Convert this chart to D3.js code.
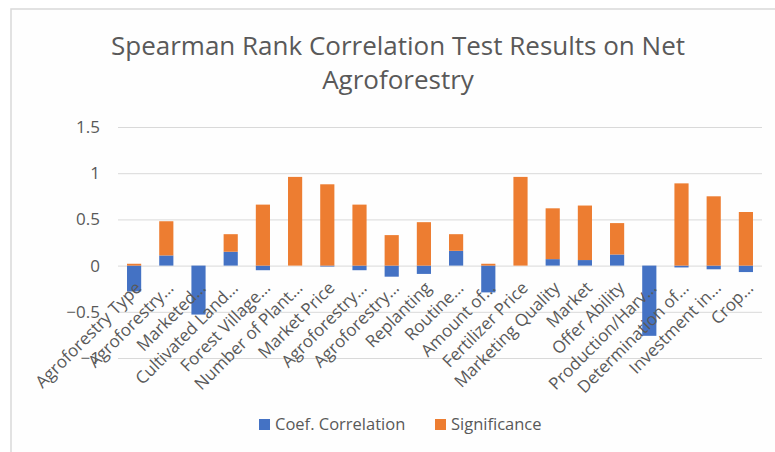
<!DOCTYPE html>
<html>
<head>
<meta charset="utf-8">
<script src="https://cdn.jsdelivr.net/npm/d3@7"></script>
<style>
  html, body { margin: 0; padding: 0; background: #ffffff; }
  svg { display: block; font-family: "Open Sans", "Liberation Sans", sans-serif; }
</style>
</head>
<body>
<svg id="chart" width="775" height="452"></svg>
<script>
const categories = [
  "Agroforestry Type", "Agroforestry…", "Marketed…", "Cultivated Land…",
  "Forest Village…", "Number of Plant…", "Market Price", "Agroforestry…",
  "Agroforestry…", "Replanting", "Routine…", "Amount of…",
  "Fertilizer Price", "Marketing Quality", "Market", "Offer Ability",
  "Production/Harv…", "Determination of…", "Investment in…", "Crop…"
];
const coefCorrelation = [
  -0.28, 0.11, -0.53, 0.15, -0.05, 0.0, -0.01, -0.05, -0.12, -0.09,
  0.16, -0.29, 0.0, 0.07, 0.06, 0.12, -0.76, -0.02, -0.04, -0.07
];
const significance = [
  0.02, 0.37, 0.0, 0.19, 0.66, 0.96, 0.88, 0.66, 0.33, 0.47,
  0.18, 0.02, 0.96, 0.55, 0.59, 0.34, 0.0, 0.89, 0.75, 0.58
];
const seriesNames = ["Coef. Correlation", "Significance"];
const seriesColors = ["#4472C4", "#ED7D31"];
const yTicks = [-1, -0.5, 0, 0.5, 1, 1.5];

const svg = d3.select("#chart");
const width = 775;
const height = 452;
const margin = { top: 127, right: 13, bottom: 94, left: 118 };
const innerWidth = width - margin.left - margin.right;
const innerHeight = height - margin.top - margin.bottom;

// chart frame (only top and left edges are visible in the crop)
svg.append("rect").attr("x", 11).attr("y", 9).attr("width", 770).attr("height", 450)
  .attr("fill", "#fefefe").attr("stroke", "#d9d9d9").attr("stroke-width", 1.5);

// title
const title = svg.append("text")
  .attr("x", 398).attr("text-anchor", "middle")
  .attr("fill", "#595959").attr("font-size", 26);
title.append("tspan").attr("x", 398).attr("y", 55).text("Spearman Rank Correlation Test Results on Net");
title.append("tspan").attr("x", 398).attr("y", 89).text("Agroforestry");

const rows = categories.map((c, i) => ({
  name: c,
  "Coef. Correlation": coefCorrelation[i],
  "Significance": significance[i]
}));

const stacked = d3.stack()
  .keys(seriesNames)
  .offset(d3.stackOffsetDiverging)(rows);

const x = d3.scaleBand()
  .domain(d3.range(categories.length))
  .range([0, innerWidth])
  .paddingInner(0.56)
  .paddingOuter(0.28);
const y = d3.scaleLinear().domain([-1, 1.5]).range([innerHeight, 0]);

const g = svg.append("g").attr("transform", `translate(${margin.left},${margin.top})`);

// gridlines
g.append("g")
  .call(d3.axisLeft(y).tickValues(yTicks).tickSize(-innerWidth).tickFormat(""))
  .call(s => s.select(".domain").remove())
  .call(s => s.selectAll("line").attr("stroke", "#d9d9d9").attr("stroke-width", 1));

// y tick labels
g.append("g")
  .call(d3.axisLeft(y).tickValues(yTicks).tickSize(0).tickPadding(18).tickFormat(d3.format("")))
  .call(s => s.select(".domain").remove())
  .call(s => s.selectAll("text").attr("fill", "#595959").attr("font-size", 17)
    .attr("font-family", "\"Open Sans\", sans-serif"));

// bars
g.append("g").selectAll("g")
  .data(stacked)
  .join("g")
  .attr("fill", (d, i) => seriesColors[i])
  .selectAll("rect")
  .data(d => d)
  .join("rect")
  .attr("x", (d, i) => x(i))
  .attr("width", x.bandwidth())
  .attr("y", d => y(Math.max(d[0], d[1])))
  .attr("height", d => Math.abs(y(d[0]) - y(d[1])));

// category labels, rotated at the zero line
g.append("g").selectAll("text")
  .data(categories)
  .join("text")
  .attr("transform", (d, i) => `translate(${x(i) + x.bandwidth() / 2},${y(0) + 15}) rotate(-45)`)
  .attr("text-anchor", "end")
  .attr("dy", "0.7em")
  .attr("fill", "#595959")
  .attr("font-size", 17)
  .text(d => d);

// legend
const legend = svg.append("g").attr("transform", "translate(259,424)");
const legendX = [0, 176];
seriesNames.forEach((name, i) => {
  const item = legend.append("g").attr("transform", `translate(${legendX[i]},0)`);
  item.append("rect").attr("x", 0).attr("y", -5).attr("width", 11).attr("height", 11)
    .attr("fill", seriesColors[i]);
  item.append("text").attr("x", 16).attr("y", 0).attr("dy", "0.35em")
    .attr("fill", "#595959").attr("font-size", 16.5).text(name);
});
</script>
</body>
</html>
